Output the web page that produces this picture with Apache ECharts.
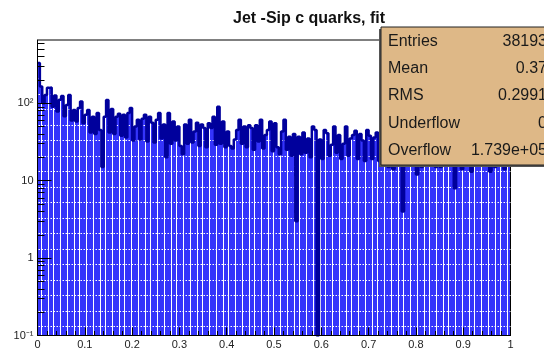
<!DOCTYPE html>
<html>
<head>
<meta charset="utf-8">
<script src="https://cdn.jsdelivr.net/npm/echarts@6/dist/echarts.min.js"></script>
<style>
  html, body { margin: 0; padding: 0; background: #ffffff; }
  #chart { width: 544px; height: 351px; }
</style>
</head>
<body>
<div id="chart"></div>
<script>
// Histogram: signed impact parameter significance of c-quark jets
const chartTitle = 'Jet -Sip c quarks, fit';

// 200 equal bins on [0, 1]
const xRange = [0, 1];
const counts = [
  330, 165, 100, 128, 158, 160,  90, 126,  78, 111,
  124,  68,  95, 128,  60,  82,  58,  87, 105,  55,
   71,  82,  42,  67,  40,  75,  45,  15,  67, 110,
   42,  84,  40,  67,  73,  38,  71,  36,  75,  87,
   33,  50,  61,  34,  63,  71,  32,  67,  56,  31,
   61,  75,  35,  53,  20,  75,  30,  58,  33,  50,
   28,  22,  53,  30,  61,  31,  43,  56,  28,  53,
   48,  27,  55,  48,  67,  29,  90,  30,  58,  27,
   43,  28,  26,  34,  45,  61,  30,  50,  27,  52,
   48,  25,  52,  32,  61,  26,  39,  45,  58,  24,
   55,  27,  22,  43,  61,  25,  37,  21,  40,   3,
   37,  22,  42,  23,  35,  20,  50,  45,   0,  34,
   19,  45,  41,  21,  29,  50,  23,  39,  19,  30,
   50,  21,  35,  39,  44,  19,  40,  33,  18,  45,
   38,  19,  36,  42,  18,  34,  39,  22,  15,  41,
   14,  35,  19,  37,   4,  30,  33,  16,  38,  22,
   12,  34,  15,  40,  17,  33,  24,  36,  15,  32,
   15,  28,  30,  35,  16,  31,   8,  29,  34,  14,
   33,  16,  30,  13,  36,  18,  31,  21,  34,  17,
   27,  13,  32,  15,  30,  35,  16,  14,  28,  33
];

// Axis ticks and labels
const xTickStep = 0.1;
const yRange = [0.1, 656];
const yMajorTicks = [0.1, 1, 10, 100];
const yMajorLabels = ['10\u207B\u00B9', '1', '10', '10\u00B2'];
const yMinorTicks = [
  0.2, 0.3, 0.4, 0.5, 0.6, 0.7, 0.8, 0.9,
  2, 3, 4, 5, 6, 7, 8, 9,
  20, 30, 40, 50, 60, 70, 80, 90,
  200, 300, 400, 500, 600
];
// dotted horizontal guide lines across the frame
const gridLevels = [0.131, 0.208, 0.330, 0.523, 0.830, 1.316, 2.09, 3.31, 5.25,
  8.33, 13.2, 20.9, 33.2, 52.7, 83.6, 132.6, 210, 333, 529];

// Statistics box
const statNames = ['Entries', 'Mean', 'RMS', 'Underflow', 'Overflow'];
const statValues = ['38193', '0.37', '0.2991', '0', '1.739e+05'];

const FONT = '"Liberation Sans", Arial, Helvetica, sans-serif';
const FILL = '#3434fb';
const EDGE = '#00009c';

const nBins = counts.length;
const binW = (xRange[1] - xRange[0]) / nBins;
const barData = counts.map((c, i) => [xRange[0] + i * binW, xRange[0] + (i + 1) * binW, c]);
// outline: one point per bin low edge, closed at the upper edge
const outline = counts.map((c, i) => [xRange[0] + i * binW, Math.max(c, yRange[0])]);
outline.push([xRange[1], Math.max(counts[nBins - 1], yRange[0])]);

const chart = echarts.init(document.getElementById('chart'), null, { renderer: 'canvas' });

const gLeft = 37.5, gTop = 40, gRight = 510.5, gBottom = 335.5;

const statElems = [];
const boxX = 381, boxY = 27, boxH = 138;
statElems.push({ type: 'rect', z: 100, shape: { x: boxX - 2, y: boxY + 2, width: 200, height: boxH },
  style: { fill: '#555555' } });
statElems.push({ type: 'rect', z: 101, shape: { x: boxX, y: boxY, width: 200, height: boxH },
  style: { fill: '#deb887', stroke: '#222222', lineWidth: 1 } });
statNames.forEach((name, k) => {
  const y = 41.5 + 27.25 * k;
  statElems.push({ type: 'text', z: 102, x: 388, y: y,
    style: { text: name, font: '16px ' + FONT, fill: '#1a1a1a', textAlign: 'left', textVerticalAlign: 'middle' } });
  statElems.push({ type: 'text', z: 102, x: 547, y: y,
    style: { text: statValues[k], font: '16px ' + FONT, fill: '#1a1a1a', textAlign: 'right', textVerticalAlign: 'middle' } });
});

const logAxisBase = {
  type: 'log',
  logBase: 10,
  position: 'left',
  offset: 0,
  min: yRange[0],
  max: yRange[1],
  z: 6,
  splitLine: { show: false },
  minorTick: { show: false },
  minorSplitLine: { show: false }
};

chart.setOption({
  animation: false,
  backgroundColor: '#ffffff',
  title: {
    text: chartTitle,
    left: 304,
    top: 6,
    textAlign: 'center',
    textStyle: { fontFamily: FONT, fontWeight: 'bold', fontSize: 16, color: '#111111' }
  },
  grid: {
    left: gLeft, top: gTop, right: 544 - gRight, bottom: 351 - gBottom,
    containLabel: false, outerBoundsMode: 'none',
    show: true, borderColor: '#000000', borderWidth: 1, backgroundColor: 'transparent'
  },
  xAxis: {
    type: 'value',
    min: xRange[0], max: xRange[1], interval: xTickStep,
    z: 6,
    axisLine: { show: true, onZero: false, lineStyle: { color: '#000000', width: 1 } },
    axisTick: { show: true, inside: true, length: 8, lineStyle: { color: '#000000', width: 1 } },
    minorTick: { show: true, splitNumber: 5, length: 4.5, lineStyle: { color: '#000000', width: 1 } },
    axisLabel: { fontFamily: FONT, fontSize: 11, color: '#222222', margin: 4 },
    splitLine: { show: false }
  },
  yAxis: [
    Object.assign({}, logAxisBase, {
      axisLine: { show: true, onZero: false, lineStyle: { color: '#000000', width: 1 } },
      axisTick: { show: true, inside: true, length: 14, customValues: yMajorTicks,
        lineStyle: { color: '#000000', width: 1 } },
      axisLabel: {
        customValues: yMajorTicks,
        fontFamily: FONT, fontSize: 11, color: '#222222', margin: 4,
        formatter: function (v) {
          for (let i = 0; i < yMajorTicks.length; i++) {
            if (Math.abs(Math.log10(v) - Math.log10(yMajorTicks[i])) < 1e-6) return yMajorLabels[i];
          }
          return '';
        }
      }
    }),
    Object.assign({}, logAxisBase, {
      axisLine: { show: false, onZero: false },
      axisTick: { show: true, inside: true, length: 7, customValues: yMinorTicks,
        lineStyle: { color: '#000000', width: 1 } },
      axisLabel: { show: false }
    })
  ],
  series: [
    {
      type: 'custom',
      name: 'bins',
      xAxisIndex: 0, yAxisIndex: 0,
      clip: true,
      silent: true,
      z: 2,
      encode: { x: [0, 1], y: 2 },
      data: barData,
      renderItem: function (params, api) {
        const v = api.value(2);
        if (!(v > 0)) return null;
        const a = api.coord([api.value(0), v]);
        const b = api.coord([api.value(1), yRange[0]]);
        const x0 = Math.floor(a[0]);
        const w = Math.floor(b[0] - a[0]);
        return {
          type: 'rect',
          shape: { x: x0, y: a[1], width: w, height: b[1] - a[1] },
          style: { fill: FILL }
        };
      }
    },
    {
      type: 'custom',
      name: 'guides',
      xAxisIndex: 0, yAxisIndex: 0,
      clip: true,
      silent: true,
      z: 3,
      encode: { x: 0, y: 1 },
      data: gridLevels.map(v => [xRange[0], v]),
      renderItem: function (params, api) {
        const cs = params.coordSys;
        const y = Math.round(api.coord([xRange[0], api.value(1)])[1]) + 0.5;
        return {
          type: 'line',
          shape: { x1: cs.x + 1, y1: y, x2: cs.x + cs.width, y2: y },
          style: { stroke: '#ffffff', lineWidth: 1.2, lineDash: [1.5, 1.5] }
        };
      }
    },
    {
      type: 'line',
      name: 'outline',
      xAxisIndex: 0, yAxisIndex: 0,
      step: 'end',
      z: 4,
      silent: true,
      showSymbol: false,
      clip: true,
      lineStyle: { color: EDGE, width: 2.5 },
      data: outline
    }
  ],
  graphic: { elements: statElems }
});
</script>
</body>
</html>
